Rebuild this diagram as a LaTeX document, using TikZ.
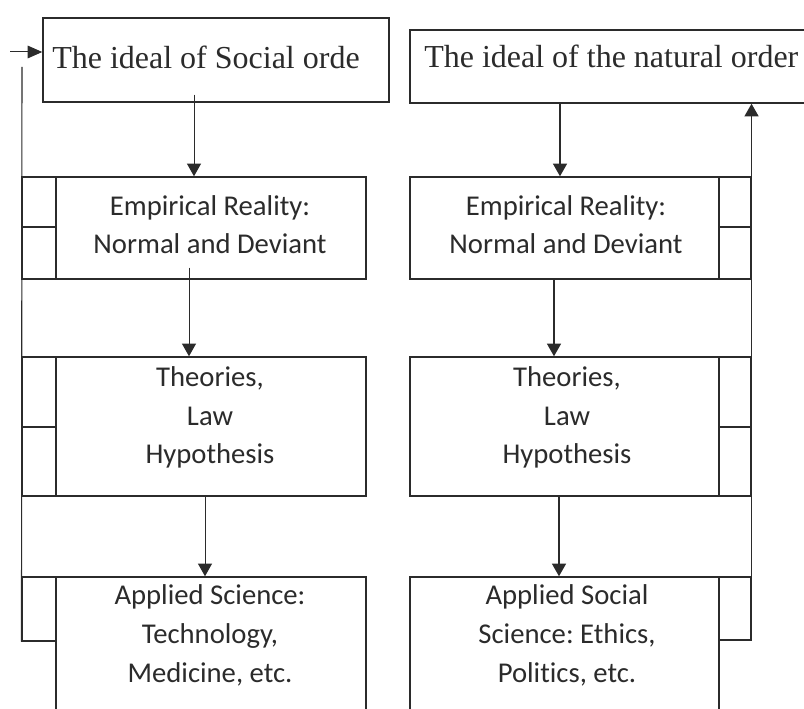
\documentclass[tikz,border=0pt]{standalone}
\usepackage{fontspec}
\setmainfont{Liberation Serif}
\newfontfamily\bodyfont[Ligatures=NoCommon]{Carlito}
\usetikzlibrary{arrows.meta,fit}
\definecolor{ink}{HTML}{2B2B2B}
\frenchspacing
\begin{document}
\begin{tikzpicture}[x=0.75pt,y=-0.75pt,
  box/.style={draw=ink,line width=1.1pt,inner sep=0pt},
  sidebox/.style={draw=ink,line width=0.8pt,inner sep=0pt},
  fb/.style={draw=ink,line width=0.8pt},
  arrthin/.style={draw=ink,line width=0.75pt,-{Triangle[length=9.5pt,width=10.5pt]}},
  arrthick/.style={draw=ink,line width=1.1pt,-{Triangle[length=9.5pt,width=10.5pt]}},
  arrsmall/.style={draw=ink,line width=0.75pt,-{Triangle[length=11pt,width=9.5pt]}},
  serif/.style={font=\fontsize{24}{29}\selectfont,text=ink,inner sep=0pt,anchor=base west},
  body/.style={font=\bodyfont\frenchspacing\fontsize{21.5}{29}\selectfont,text=ink,align=center,inner sep=0pt,anchor=base},
]
\fill[white] (0,0) rectangle (804,709);
\clip (0,0) rectangle (804,709);

% ---------- top boxes ----------
\node[box,fit={(43,18)(389,102)}] (lt) {};
\node[serif] (ltt) at (52,69) {The ideal of Social orde};
\node[box,fit={(410,30)(808,103)}] (rt) {};
\node[serif] (rtt) at (424,68) {The ideal of the natural order};

% ---------- left column ----------
\node[box,fit={(56,177)(366,279)}] (le) {};
\node[sidebox,fit={(22,177)(56,227)}] (les1) {};
\node[sidebox,fit={(22,227)(56,279)}] (les2) {};
\node[body] (let) at (210,254) {Empirical Reality:\\Normal and Deviant};

\node[box,fit={(56,357)(366,496)}] (lth) {};
\node[sidebox,fit={(22,357)(56,427)}] (lths1) {};
\node[sidebox,fit={(22,427)(56,496)}] (lths2) {};
\node[body] (ltht) at (210,464) {Theories,\\Law\\Hypothesis};

\node[box,fit={(56,577)(366,730)}] (la) {};
\node[sidebox,fit={(22,577)(56,641)}] (las) {};
\node[body] (lat) at (210,682) {Applied Science:\\Technology,\\Medicine, etc.};

% ---------- right column ----------
\node[box,fit={(410,177)(719,279)}] (re) {};
\node[sidebox,fit={(719,177)(751,227)}] (res1) {};
\node[sidebox,fit={(719,227)(751,279)}] (res2) {};
\node[body] (ret) at (566,254) {Empirical Reality:\\Normal and Deviant};

\node[box,fit={(410,357)(719,496)}] (rth) {};
\node[sidebox,fit={(719,357)(751,427)}] (rths1) {};
\node[sidebox,fit={(719,427)(751,496)}] (rths2) {};
\node[body] (rtht) at (567,464) {Theories,\\Law\\Hypothesis};

\node[box,fit={(410,577)(719,730)}] (ra) {};
\node[sidebox,fit={(719,577)(751,640)}] (ras) {};
\node[body] (rat) at (567,682) {Applied Social\\Science: Ethics,\\Politics, etc.};

% ---------- arrow x positions ----------
\coordinate (xa1) at (194,0);
\coordinate (xa2) at (189,0);
\coordinate (xa3) at (205,0);
\coordinate (xb1) at (560,0);
\coordinate (xb2) at (554,0);
\coordinate (xb3) at (559,0);

% ---------- left arrows ----------
\draw[arrthin] ([yshift=6pt]lt.south -| xa1) -- (le.north -| xa1);
\draw[arrthin] ([yshift=9pt]le.south -| xa2) -- (lth.north -| xa2);
\draw[arrthin] (lth.south -| xa3) -- (la.north -| xa3);

% ---------- right arrows ----------
\draw[arrthick] (rt.south -| xb1) -- (re.north -| xb1);
\draw[arrthick] (re.south -| xb2) -- (rth.north -| xb2);
\draw[arrthick] (rth.south -| xb3) -- (ra.north -| xb3);

% ---------- feedback lines ----------
\coordinate (fbtop) at (22,67);
\draw[fb] (las.south west) -- (fbtop);
\coordinate (instart) at (10,52);
\draw[arrsmall] (instart) -- (instart -| lt.west);

\draw[arrthick] (ras.south east) -- (ras.south east |- rt.south);
\end{tikzpicture}
\end{document}
